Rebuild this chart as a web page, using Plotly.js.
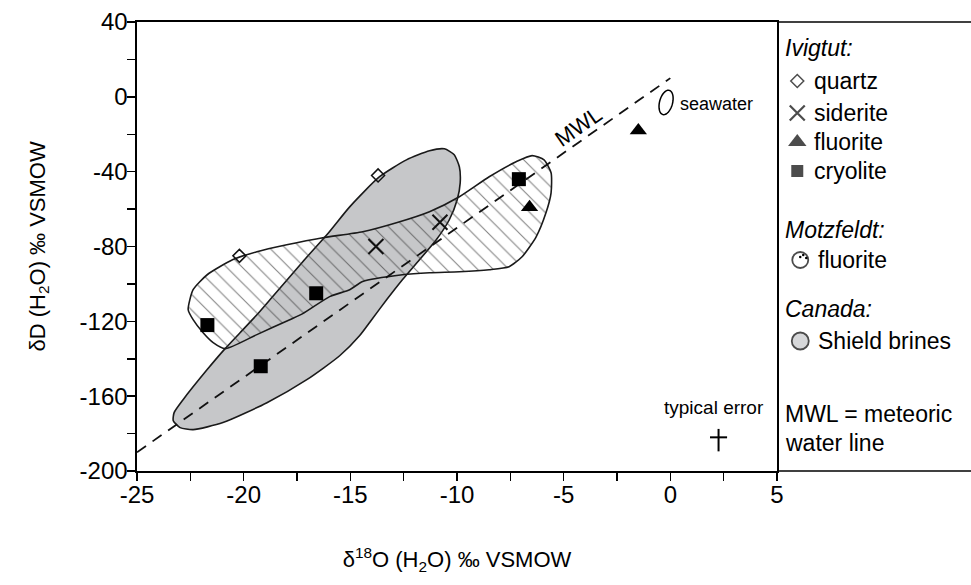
<!DOCTYPE html>
<html>
<head>
<meta charset="utf-8">
<script src="https://cdn.plot.ly/plotly-3.0.1.min.js"></script>
<style>
  html, body { margin: 0; padding: 0; background: #fff; }
  #chart { width: 971px; height: 585px; }
</style>
</head>
<body>
<div id="chart"></div>
<script>
// Ivigtut samples: δ18O and δD of fluid (‰ VSMOW)
const quartzX   = [-13.7, -20.2];
const quartzY   = [-42, -85];
const sideriteX = [-13.8, -10.8];
const sideriteY = [-80, -67];
const fluoriteX = [-6.6, -1.5];
const fluoriteY = [-59, -18];
const cryoliteX = [-7.1, -16.6, -21.7, -19.2];
const cryoliteY = [-44, -105, -122, -144];

// Motzfeldt fluorite field outline
const motzX = [-22.60, -22.37, -21.71, -20.50, -19.38, -17.98, -16.29, -14.42, -12.84, -11.29,
               -9.89, -8.49, -7.23, -6.48, -5.92, -5.59, -5.59, -5.83, -6.29, -6.95,
               -7.56, -8.49, -9.89, -11.29, -12.56, -14.42, -15.03, -15.97, -17.23, -17.84,
               -19.38, -20.87, -21.43, -21.90, -22.37, -22.60];
const motzY = [-113.8, -103.1, -95.1, -87.0, -82.8, -79.1, -75.3, -72.1, -67.3, -61.4,
               -53.4, -42.7, -34.7, -31.4, -33.7, -40.6, -51.3, -62.0, -74.8, -85.5,
               -90.8, -92.4, -93.5, -94.0, -95.1, -98.7, -103.1, -106.8, -115.9, -119.1,
               -127.1, -134.6, -131.4, -126.1, -119.1, -113.8];

// Canadian Shield brines field outline
const shieldX = [-11.29, -10.59, -10.13, -9.89, -9.85, -9.99, -10.36, -10.97, -11.76, -12.56,
                 -13.30, -14.00, -14.57, -15.50, -17.04, -18.91, -20.97, -22.37, -22.98, -23.30,
                 -23.26, -22.84, -21.71, -20.87, -20.17, -19.38, -18.77, -17.23, -16.06, -15.03,
                 -13.63, -12.37, -11.29];
const shieldY = [-28.8, -27.8, -31.0, -37.4, -46.0, -55.0, -65.7, -76.4, -87.1, -97.8,
                 -108.5, -119.1, -127.7, -138.4, -151.2, -163.5, -174.1, -177.9, -176.8, -173.1,
                 -168.8, -161.9, -145.8, -134.6, -126.1, -116.5, -108.5, -88.1, -73.2, -58.8,
                 -42.7, -33.7, -28.8];

// Meteoric water line end points (δD = 8·δ18O + 10)
const mwlX = [-25, 0];
const mwlY = [-190, 10];

// Seawater (VSMOW) and the typical analytical error
const seawaterX = -0.2;
const seawaterY = -3;
const errX = 2.26;
const errY = -182;
const errO = 0.4;
const errDplus = 4.5;
const errDminus = 7.5;

// Tick labels
const xTicks = [-25, -20, -15, -10, -5, 0, 5];
const yTicks = [40, 0, -40, -80, -120, -160, -200];

// Legend entries (text, italic header?)
const legendText = ['Ivigtut:', 'quartz', 'siderite', 'fluorite', 'cryolite',
                    'Motzfeldt:', 'fluorite', 'Canada:', 'Shield brines',
                    'MWL = meteoric', 'water line'];
const legendHeader = [true, false, false, false, false, true, false, true, false, false, false];

const FONT = 'Liberation Sans, Arial, Helvetica, sans-serif';
const plotW = 971 - 137;          // width of the plotting region (margins excluded)
const mainFrac = 640 / plotW;     // main axes occupy the left part, legend panel the rest

// legend panel uses pixel-like coordinates on its own hidden axes
const legY = [48, 81, 113, 142, 171, 230, 260, 309, 341, 414, 443];
const legTextX = [783, 812, 812, 812, 812, 783, 816, 783, 816, 783, 783];

const traces = [
  {
    x: shieldX, y: shieldY, mode: 'lines', type: 'scatter',
    line: {color: '#1a1a1a', width: 1.6, shape: 'spline', smoothing: 0.6},
    fill: 'toself', fillcolor: '#c6c7c9', hoverinfo: 'skip', showlegend: false
  },
  {
    x: motzX, y: motzY, mode: 'lines', type: 'scatter',
    line: {color: '#1a1a1a', width: 1.6, shape: 'spline', smoothing: 0.6},
    fill: 'toself', fillcolor: 'rgba(0,0,0,0)',
    fillpattern: {shape: '\\', size: 11, solidity: 0.1, fgcolor: '#333', fgopacity: 0.6,
                  bgcolor: 'rgba(0,0,0,0)'},
    hoverinfo: 'skip', showlegend: false
  },
  {
    x: mwlX, y: mwlY, mode: 'lines', type: 'scatter',
    line: {color: '#111', width: 1.8, dash: '11px,8px'}, showlegend: false
  },
  {
    x: quartzX, y: quartzY, mode: 'markers', type: 'scatter', name: 'quartz',
    marker: {symbol: 'diamond-open', size: 10, color: '#111', line: {width: 1.5, color: '#111'}},
    showlegend: false
  },
  {
    x: sideriteX, y: sideriteY, mode: 'markers', type: 'scatter', name: 'siderite',
    marker: {symbol: 'x-thin-open', size: 15, color: '#111', line: {width: 2, color: '#111'}},
    showlegend: false
  },
  {
    x: fluoriteX, y: fluoriteY, mode: 'markers', type: 'scatter', name: 'fluorite',
    marker: {symbol: 'triangle-up', size: 15, color: '#000'},
    showlegend: false
  },
  {
    x: cryoliteX, y: cryoliteY, mode: 'markers', type: 'scatter', name: 'cryolite',
    marker: {symbol: 'square', size: 14, color: '#000'},
    showlegend: false
  },
  {
    x: [errX], y: [errY], mode: 'markers', type: 'scatter',
    marker: {size: 1, color: 'rgba(0,0,0,0)'},
    error_x: {type: 'data', array: [errO], width: 0, thickness: 2, color: '#000'},
    error_y: {type: 'data', symmetric: false, array: [errDplus], arrayminus: [errDminus],
              width: 0, thickness: 2, color: '#000'},
    showlegend: false, hoverinfo: 'skip'
  },
  // legend glyphs
  {
    x: [797, 797, 797, 797], y: [81, 113, 142, 171], xaxis: 'x2', yaxis: 'y2',
    mode: 'markers', type: 'scatter', cliponaxis: false, hoverinfo: 'skip', showlegend: false,
    marker: {
      symbol: ['diamond-open', 'x-thin-open', 'triangle-up', 'square'],
      size: [10, 15, 16, 12], color: '#000', line: {width: [1.5, 2.2, 0, 0], color: '#000'}
    }
  },
  {
    x: [800, 800], y: [260, 341], xaxis: 'x2', yaxis: 'y2',
    mode: 'markers', type: 'scatter', cliponaxis: false, hoverinfo: 'skip', showlegend: false,
    marker: {symbol: 'circle', size: [16, 17], color: ['#fff', '#c6c7c9'],
             line: {width: 1.8, color: '#000'}}
  },
  {
    x: [803, 806, 800], y: [255, 258, 257], xaxis: 'x2', yaxis: 'y2',
    mode: 'markers', type: 'scatter', cliponaxis: false, hoverinfo: 'skip', showlegend: false,
    marker: {symbol: 'circle', size: 2.5, color: '#000'}
  }
];

const annotations = [
  {
    x: -4.3, y: -16, xref: 'x', yref: 'y', text: 'MWL', showarrow: false,
    textangle: -35, font: {family: FONT, size: 22, color: '#000'}
  },
  {
    x: seawaterX + 0.55, y: seawaterY - 1, xref: 'x', yref: 'y', text: 'seawater',
    showarrow: false, xanchor: 'left', yanchor: 'middle',
    font: {family: FONT, size: 18, color: '#000'}
  },
  {
    x: errX - 0.2, y: -166, xref: 'x', yref: 'y', text: 'typical error',
    showarrow: false, xanchor: 'center', yanchor: 'middle',
    font: {family: FONT, size: 19, color: '#000'}
  },
  // vertical axis title
  {
    x: (38 - 137) / plotW, y: 0.5, xref: 'paper', yref: 'paper',
    text: 'δD (H<sub>2</sub>O) ‰ VSMOW', showarrow: false, textangle: -90,
    xanchor: 'center', yanchor: 'middle',
    font: {family: FONT, size: 22, color: '#000'}
  }
];

legendText.forEach((t, i) => {
  annotations.push({
    x: legTextX[i], y: legY[i], xref: 'x2', yref: 'y2',
    text: legendHeader[i] ? '<i>' + t + '</i>' : t,
    showarrow: false, xanchor: 'left', yanchor: 'middle',
    font: {family: FONT, size: 23, color: '#000'}
  });
});

const shapes = [
  // seawater ellipse, slightly tilted, sized in pixels around its centre
  (function () {
    const a = 6.5, b = 12.5, tilt = 15 * Math.PI / 180;
    let d = '';
    for (let k = 0; k <= 48; k++) {
      const t = 2 * Math.PI * k / 48;
      const px = a * Math.cos(t) * Math.cos(tilt) + b * Math.sin(t) * Math.sin(tilt);
      const py = -a * Math.cos(t) * Math.sin(tilt) + b * Math.sin(t) * Math.cos(tilt);
      d += (k === 0 ? 'M' : 'L') + px.toFixed(2) + ',' + py.toFixed(2);
    }
    return {
      type: 'path', path: d + 'Z', xref: 'x', yref: 'y',
      xsizemode: 'pixel', ysizemode: 'pixel', xanchor: seawaterX, yanchor: seawaterY,
      line: {color: '#000', width: 1.5}, fillcolor: 'rgba(0,0,0,0)'
    };
  })(),
  // frame around the legend panel
  {type: 'line', xref: 'paper', yref: 'paper', x0: mainFrac, x1: 1.02, y0: 1, y1: 1,
   line: {color: '#000', width: 1.6}},
  {type: 'line', xref: 'paper', yref: 'paper', x0: mainFrac, x1: 1.02, y0: 0, y1: 0,
   line: {color: '#000', width: 1.6}}
];

const tickFont = {family: FONT, size: 24, color: '#000'};
const titleFont = {family: FONT, size: 22, color: '#000'};

const layout = {
  width: 971, height: 585,
  margin: {l: 137, r: 0, t: 22, b: 114, pad: 0},
  paper_bgcolor: '#fff', plot_bgcolor: 'rgba(0,0,0,0)',
  showlegend: false,
  font: {family: FONT, color: '#000'},
  xaxis: {
    domain: [0, mainFrac], range: [-25, 5], tickmode: 'array', tickvals: xTicks,
    ticktext: xTicks.map(String), ticks: 'outside', ticklen: 8, tickwidth: 1.5, tickcolor: '#000',
    minor: {dtick: 2.5, tick0: -25, ticks: 'outside', ticklen: 8, tickwidth: 1.5, tickcolor: '#000'},
    showline: true, linewidth: 1.6, linecolor: '#000', mirror: true,
    showgrid: false, zeroline: false, tickfont: tickFont, ticklabelstandoff: -6,
    title: {text: 'δ<sup>18</sup>O (H<sub>2</sub>O) ‰ VSMOW', font: titleFont, standoff: 44},
    anchor: 'y'
  },
  yaxis: {
    domain: [0, 1], range: [-200, 40], tickmode: 'array', tickvals: yTicks,
    ticktext: yTicks.map(String), ticks: 'outside', ticklen: 8, tickwidth: 1.5, tickcolor: '#000',
    minor: {dtick: 20, tick0: -200, ticks: 'outside', ticklen: 8, tickwidth: 1.5, tickcolor: '#000'},
    showline: true, linewidth: 1.6, linecolor: '#000', mirror: true,
    showgrid: false, zeroline: false, tickfont: tickFont, ticklabelstandoff: -5,
    anchor: 'x'
  },
  xaxis2: {domain: [mainFrac, 1], range: [776.7, 971], visible: false, anchor: 'y2', fixedrange: true},
  yaxis2: {domain: [0, 1], range: [471, 22], visible: false, anchor: 'x2', fixedrange: true},
  annotations: annotations,
  shapes: shapes
};

Plotly.newPlot('chart', traces, layout, {displayModeBar: false, staticPlot: true});
</script>
</body>
</html>
